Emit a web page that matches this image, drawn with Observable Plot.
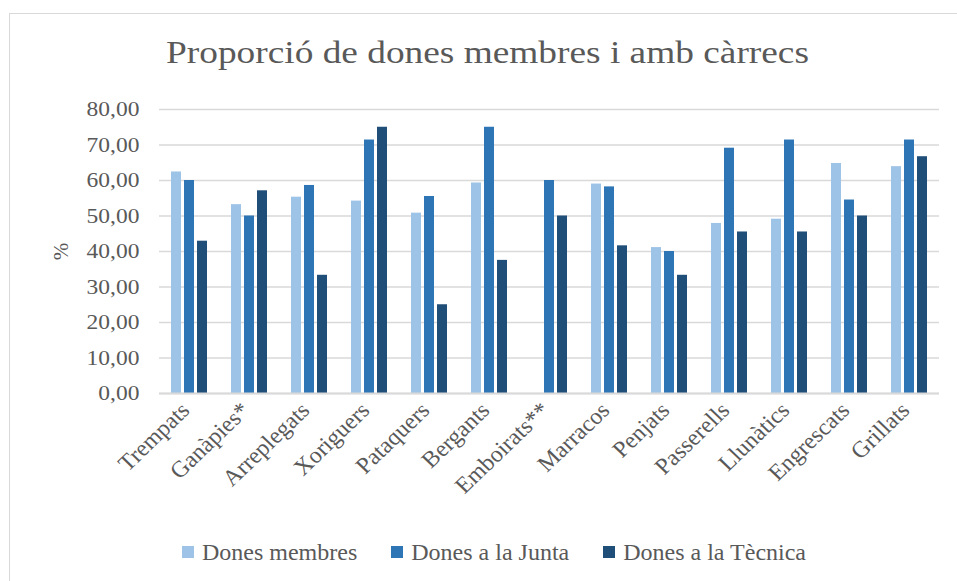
<!DOCTYPE html>
<html>
<head>
<meta charset="utf-8">
<script src="https://cdn.jsdelivr.net/npm/d3@7"></script>
<script src="https://cdn.jsdelivr.net/npm/@observablehq/plot@0.6"></script>
<style>
  html, body { margin: 0; padding: 0; width: 957px; height: 581px; overflow: hidden; background: #fff; }
  body { position: relative; font-family: "Liberation Serif", "Times New Roman", serif; color: #595959; }
  #frame { position: absolute; left: 9px; top: 13px; width: 980px; height: 600px; border: 1.5px solid #d9d9d9; box-sizing: border-box; }
  #title { position: absolute; left: 9px; width: 960px; top: 32px; text-align: center; font-size: 32px; line-height: 40px; white-space: nowrap; transform: scaleX(1.167); transform-origin: 489px 0; }
  #chart { position: absolute; left: 0; top: 90px; }
  #legend { position: absolute; left: 0; width: 988px; top: 537px; display: flex; justify-content: center; font-size: 24px; line-height: 30px; }
  .item { display: flex; align-items: center; margin: 0 17px; }
  .sw { width: 12px; height: 12px; margin-right: 8px; }
</style>
</head>
<body>
<div id="frame"></div>
<div id="title">Proporció de dones membres i amb càrrecs</div>
<div id="chart"></div>
<div id="legend"></div>
<script>
const categories = ["Trempats", "Ganàpies*", "Arreplegats", "Xoriguers", "Pataquers", "Bergants", "Emboirats**", "Marracos", "Penjats", "Passerells", "Llunàtics", "Engrescats", "Grillats"];
const seriesNames = ["Dones membres", "Dones a la Junta", "Dones a la Tècnica"];
const donesMembres = [62.4, 53.2, 55.3, 54.2, 50.8, 59.3, 0, 59.0, 41.1, 47.9, 49.1, 64.8, 63.9];
const donesJunta = [60.0, 50.0, 58.6, 71.4, 55.5, 75.0, 60.0, 58.2, 40.0, 69.1, 71.4, 54.5, 71.4];
const donesTecnica = [42.9, 57.1, 33.3, 75.0, 25.0, 37.5, 50.0, 41.6, 33.3, 45.5, 45.5, 50.0, 66.7];
const yTicks = [0, 10, 20, 30, 40, 50, 60, 70, 80];
const colors = ["#9dc3e6", "#2e75b6", "#1f4e79"];

const seriesValues = [donesMembres, donesJunta, donesTecnica];
const rows = [];
categories.forEach((c, i) => {
  seriesNames.forEach((s, j) => rows.push({cat: c, series: s, value: seriesValues[j][i]}));
});

const fmt = d => d.toFixed(2).replace(".", ",");

const plot = Plot.plot({
  width: 957,
  height: 420,
  marginLeft: 157,
  marginRight: 16,
  marginTop: 19,
  marginBottom: 117,
  style: {fontFamily: "'Liberation Serif', 'Times New Roman', serif", fontSize: "21px", color: "#595959", background: "transparent"},
  fx: {domain: categories, padding: 0, label: null},
  x: {domain: seriesNames, paddingInner: 0.2, paddingOuter: 0.85, axis: null},
  y: {domain: [0, 80], ticks: yTicks},
  color: {domain: seriesNames, range: colors},
  marks: [
    Plot.gridY(yTicks, {stroke: "#d9d9d9", strokeOpacity: 1, strokeWidth: 1.5}),
    Plot.barY(rows, {fx: "cat", x: "series", y: "value", fill: "series"}),
    Plot.ruleY([0], {stroke: "#d9d9d9", strokeWidth: 2}),
    Plot.axisY(yTicks, {tickSize: 0, tickPadding: 20, tickFormat: fmt, label: "%", labelAnchor: "center", labelOffset: 106, labelArrow: "none", fontSize: 21}),
    Plot.axisFx({anchor: "bottom", tickRotate: -45, tickSize: 0, tickPadding: 13, dx: -4, label: null, fontSize: 23})
  ]
});
document.getElementById("chart").appendChild(plot);

// horizontal text stretch to match the reference's wide serif lettering
function stretchTexts(selector, s) {
  plot.querySelectorAll(selector).forEach(t => {
    const tr = t.getAttribute("transform") || "";
    if (/translate\(/.test(tr)) {
      t.setAttribute("transform", tr.replace(/(translate\([^)]*\))/, `$1 scale(${s},1)`));
    } else {
      const x = +(t.getAttribute("x") || 0), y = +(t.getAttribute("y") || 0);
      t.setAttribute("transform", `translate(${x},${y}) scale(${s},1) translate(${-x},${-y}) ${tr}`);
    }
  });
}
stretchTexts('g[aria-label="y-axis tick label"] text', 1.12);
stretchTexts('g[aria-label="fx-axis tick label"] text', 1.04);

const legend = document.getElementById("legend");
seriesNames.forEach((s, i) => {
  const it = document.createElement("div");
  it.className = "item";
  const sw = document.createElement("span");
  sw.className = "sw";
  sw.style.background = colors[i];
  const tx = document.createElement("span");
  tx.textContent = s;
  it.appendChild(sw);
  it.appendChild(tx);
  legend.appendChild(it);
});
</script>
</body>
</html>
